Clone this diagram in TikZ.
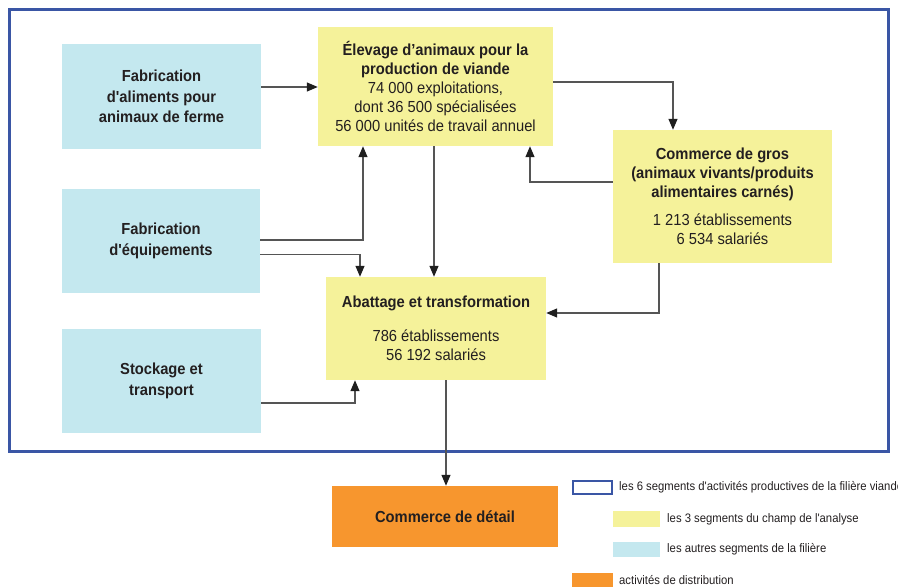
\documentclass[tikz,border=0pt]{standalone}
\usepackage{fontspec}
\setmainfont[FakeStretch=0.92,Ligatures=TeXOff]{Liberation Sans}
\usetikzlibrary{arrows.meta}
\definecolor{frameblue}{HTML}{3A56A5}
\definecolor{cyanbox}{HTML}{C4E8EF}
\definecolor{yellowbox}{HTML}{F5F29A}
\definecolor{orangebox}{HTML}{F7962E}
\definecolor{txt}{HTML}{231F20}
\definecolor{lnk}{HTML}{555555}
\begin{document}
\begin{tikzpicture}[x=1pt,y=-1pt,
  box/.style={inner sep=0pt,align=center,text=txt,anchor=center},
  cyanb/.style={box,fill=cyanbox,font=\bfseries\fontsize{16}{20.5}\selectfont},
  yellowb/.style={box,fill=yellowbox,font=\fontsize{16}{19}\selectfont},
  orangeb/.style={box,fill=orangebox,font=\bfseries\fontsize{16}{19}\selectfont},
  arr/.style={draw=lnk,line width=1.3pt,-{Triangle[length=11pt,width=9pt,fill=black!88,color=black!88]}},
  legtext/.style={anchor=west,inner sep=0pt,text=txt,font=\fontsize{12.3}{14}\selectfont},
]
\useasboundingbox (0,0) rectangle (898,587);
% frame
\draw[frameblue,line width=3pt] (9.5,9.5) rectangle (888,451);
% boxes
\node[cyanb,minimum width=199pt,minimum height=105pt] (alim) at (161.5,96.5) {Fabrication\\d'aliments pour\\animaux de ferme};
\node[cyanb,minimum width=198pt,minimum height=104pt] (equip) at (161,241) {Fabrication\\d'équipements};
\node[cyanb,minimum width=199pt,minimum height=104pt] (stock) at (161.5,381) {Stockage et\\transport};
\node[yellowb,minimum width=235pt,minimum height=119pt] (elev) at (435.5,86.5) {\textbf{Élevage d’animaux pour la}\\\textbf{production de viande}\\74 000 exploitations,\\dont 36 500 spécialisées\\56 000 unités de travail annuel};
\node[yellowb,minimum width=219pt,minimum height=133pt] (gros) at (722.5,196.5) {\textbf{Commerce de gros}\\\textbf{(animaux vivants/produits}\\\textbf{alimentaires carnés)}\\[9pt]1 213 établissements\\6 534 salariés};
\node[yellowb,minimum width=220pt,minimum height=103pt] (abat) at (436,328.5) {\textbf{Abattage et transformation}\\[15pt]786 établissements\\56 192 salariés};
\node[orangeb,minimum width=226pt,minimum height=61pt] (detail) at (445,516.5) {Commerce de détail};
% connectors
\draw[arr] ([yshift=9.5pt]alim.east) -- ([yshift=9.5pt]alim.east -| elev.west);
\draw[arr] ([yshift=4.5pt]elev.east) -| ([xshift=-49.5pt]gros.north);
\draw[arr] ([yshift=14.5pt]gros.west) -| ([xshift=94.5pt]elev.south);
\draw[arr] ([yshift=1pt]equip.east) -| ([xshift=-72.5pt]elev.south);
\draw[arr] ([yshift=-13.5pt]equip.east) -| ([xshift=-76pt]abat.north);
\draw[arr] ([xshift=-1.5pt]elev.south) -- ([xshift=-1.5pt]elev.south |- abat.north);
\draw[arr] ([xshift=-63.5pt]gros.south) |- ([yshift=15.5pt]abat.east);
\draw[arr] ([yshift=-22pt]stock.east) -| ([xshift=-81pt]abat.south);
\draw[arr] ([xshift=10pt]abat.south) -- ([xshift=10pt]abat.south |- detail.north);
% legend
\draw[frameblue,line width=2.5pt] (573,481) rectangle (612,494);
\fill[yellowbox] (613,511) rectangle (660,527);
\fill[cyanbox] (613,542) rectangle (660,557);
\fill[orangebox] (572,573) rectangle (613,590);
\node[legtext] (l1) at (619,487) {les 6 segments d'activités productives de la filière viande};
\node[legtext] (l2) at (667,519) {les 3 segments du champ de l'analyse};
\node[legtext] (l3) at (667,549.5) {les autres segments de la filière};
\node[legtext] (l4) at (619,580) {activités de distribution};
\end{tikzpicture}
\end{document}
